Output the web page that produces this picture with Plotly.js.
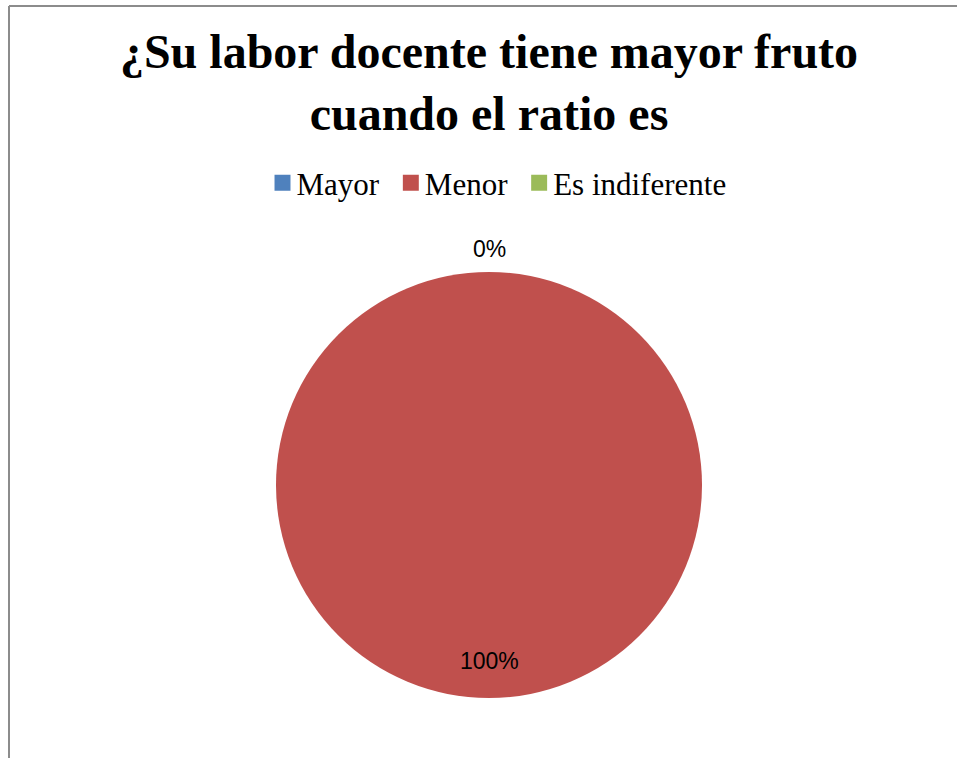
<!DOCTYPE html>
<html>
<head>
<meta charset="utf-8">
<script src="https://cdn.plot.ly/plotly-3.0.1.min.js"></script>
<style>
  html, body { margin: 0; padding: 0; background: #ffffff; }
  #chart { width: 957px; height: 758px; }
</style>
</head>
<body>
<div id="chart"></div>
<script>
// ---- data ----
const titleText = "¿Su labor docente tiene mayor fruto<br>cuando el ratio es";
const categories = ["Mayor", "Menor", "Es indiferente"];
const values = [0, 100, 0];
const sliceColors = ["#4F81BD", "#C0504D", "#9BBB59"];

// ---- geometry of the pie (figure pixels) ----
const W = 957, H = 758;
const cxPx = 489, cyPx = 485, rPx = 213;
const domX = [(cxPx - rPx) / W, (cxPx + rPx) / W];
const domY = [(H - cyPx - rPx) / H, (H - cyPx + rPx) / H];

// ---- data labels, placed from the data (Excel style: start at 12 o'clock, clockwise) ----
const total = values.reduce((a, b) => a + b, 0);
const annotations = [];
const placed = [];
let cum = 0;
values.forEach((v, i) => {
  const frac = v / total;
  const mid = (cum + frac / 2) * 2 * Math.PI;
  cum += frac;
  const pct = Math.round(frac * 100) + "%";
  const dist = frac === 0 ? rPx + 23 : rPx * 0.827;
  const px = cxPx + dist * Math.sin(mid);
  const py = cyPx - dist * Math.cos(mid);
  const key = Math.round(px) + "," + Math.round(py) + "," + pct;
  if (placed.indexOf(key) !== -1) return;
  placed.push(key);
  annotations.push({
    text: pct, showarrow: false,
    xref: "paper", yref: "paper",
    x: px / W, y: 1 - py / H,
    xanchor: "center", yanchor: "middle",
    font: { family: "Liberation Sans, Arial, sans-serif", size: 23, color: "#000000" }
  });
});

const trace = {
  type: "pie",
  labels: categories,
  values: values,
  sort: false,
  direction: "clockwise",
  rotation: 0,
  marker: { colors: sliceColors, line: { width: 0 } },
  textinfo: "none",
  textposition: "none",
  hoverinfo: "skip",
  domain: { x: domX, y: domY },
  showlegend: true
};

const layout = {
  width: W, height: H,
  margin: { l: 0, r: 0, t: 0, b: 0 },
  paper_bgcolor: "#ffffff",
  title: {
    text: titleText,
    x: 489 / W, xanchor: "center",
    y: 1 - 68 / H, yanchor: "top",
    yref: "paper", xref: "paper",
    font: { family: "Liberation Serif, Times New Roman, serif", size: 48, color: "#000000", weight: "bold" }
  },
  legend: {
    orientation: "h",
    x: 494 / W, xanchor: "center",
    y: 1 - 183 / H, yanchor: "middle",
    font: { family: "Liberation Serif, Times New Roman, serif", size: 31, color: "#000000" },
    bgcolor: "rgba(0,0,0,0)",
    traceorder: "normal"
  },
  annotations: annotations,
  shapes: [
    { type: "line", xref: "paper", yref: "paper", x0: 9 / W, x1: 1, y0: 1 - 6 / H, y1: 1 - 6 / H,
      line: { color: "#8c8c8c", width: 2 } },
    { type: "line", xref: "paper", yref: "paper", x0: 9 / W, x1: 9 / W, y0: 0, y1: 1 - 6 / H,
      line: { color: "#8c8c8c", width: 2 } }
  ]
};

Plotly.newPlot("chart", [trace], layout, { displayModeBar: false, staticPlot: true }).then(function () {
  // enlarge the legend swatches to the reference's ~16px squares, keeping their own placement
  document.querySelectorAll("#chart .legend .legendpoints path").forEach(function (p) {
    const t = p.getAttribute("transform") || "";
    p.setAttribute("transform", t + " translate(6,0) scale(1.33)");
  });
});
</script>
</body>
</html>
